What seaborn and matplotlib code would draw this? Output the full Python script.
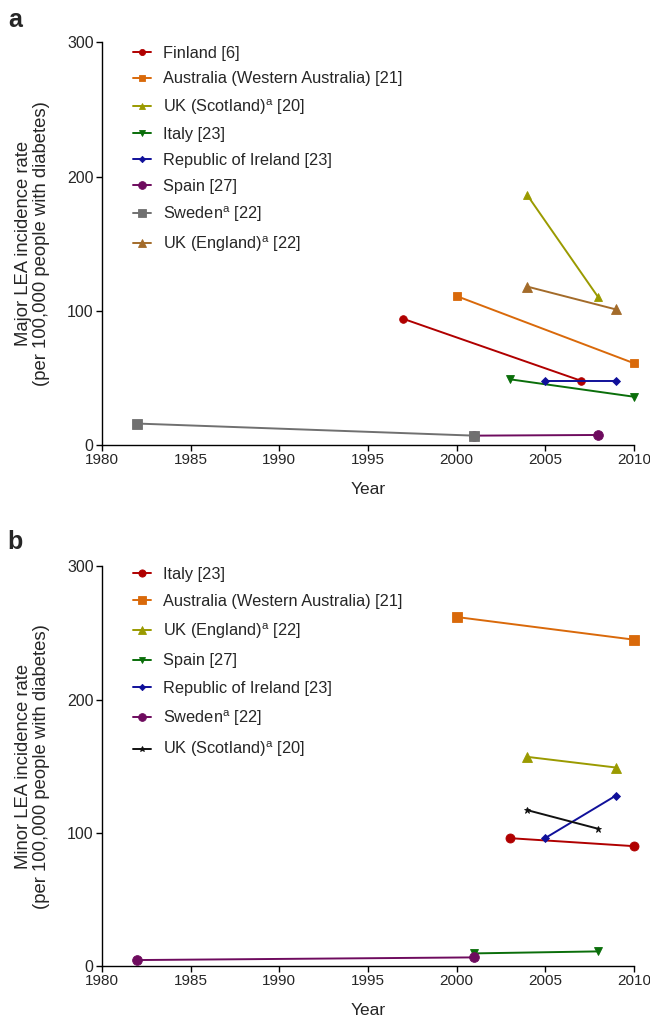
import numpy as np
import pandas as pd
import matplotlib
matplotlib.use("Agg")
import matplotlib.pyplot as plt
import seaborn as sns

# data
major_labels = ["Finland [6]", "Australia (Western Australia) [21]",
                "UK (Scotland)$^{\\mathrm{a}}$ [20]", "Italy [23]",
                "Republic of Ireland [23]", "Spain [27]",
                "Sweden$^{\\mathrm{a}}$ [22]", "UK (England)$^{\\mathrm{a}}$ [22]"]
major_years = [[1997, 2007], [2000, 2010], [2004, 2008], [2003, 2010],
               [2005, 2009], [2001, 2008], [1982, 2001], [2004, 2009]]
major_rates = [[94, 48], [111, 61], [186, 110], [49, 36],
               [48, 48], [7, 7.5], [16, 7], [118, 101]]

minor_labels = ["Italy [23]", "Australia (Western Australia) [21]",
                "UK (England)$^{\\mathrm{a}}$ [22]", "Spain [27]",
                "Republic of Ireland [23]", "Sweden$^{\\mathrm{a}}$ [22]",
                "UK (Scotland)$^{\\mathrm{a}}$ [20]"]
minor_years = [[2003, 2010], [2000, 2010], [2004, 2009], [2001, 2008],
               [2005, 2009], [1982, 2001], [2004, 2008]]
minor_rates = [[96, 90], [262, 245], [157, 149], [9.5, 11],
               [96, 128], [4.5, 6.5], [117, 103]]

year_ticks = [1980, 1985, 1990, 1995, 2000, 2005, 2010]
rate_ticks = [0, 100, 200, 300]

# styles
major_colors = ["#B00000", "#D9690A", "#9A9A00", "#0A6E0A",
                "#10109A", "#6E0B5E", "#707070", "#A36B2A"]
major_markers = ["o", "s", "^", "v", "D", "o", "s", "^"]
major_msize = [5.5, 6, 6, 6, 4, 7, 6.5, 7.5]

minor_colors = ["#B00000", "#D9690A", "#9A9A00", "#0A6E0A",
                "#10109A", "#6E0B5E", "#111111"]
minor_markers = ["o", "s", "^", "v", "D", "o", "*"]
minor_msize = [6.5, 6.5, 6.5, 6, 4, 7, 5]

sns.set_theme(style="ticks")
plt.rcParams["font.family"] = ["Liberation Sans", "DejaVu Sans"]
plt.rcParams["mathtext.fontset"] = "custom"
plt.rcParams["mathtext.rm"] = "Liberation Sans"

fig = plt.figure(figsize=(6.5, 10.17), dpi=100)
ax_a = fig.add_axes([0.157, 0.5624, 0.818, 0.396])
ax_b = fig.add_axes([0.157, 0.0501, 0.818, 0.393])


def draw_panel(ax, labels, years, rates, colors, markers, sizes, ylabel,
               spacing, leg_top):
    for lab, yr, rt, c, m, s in zip(labels, years, rates, colors, markers, sizes):
        df = pd.DataFrame({"year": yr, "rate": rt})
        sns.lineplot(data=df, x="year", y="rate", ax=ax, color=c, marker=m,
                     markersize=s, markeredgewidth=0.6, markeredgecolor=c,
                     linewidth=1.4, label=lab, clip_on=False, zorder=3)
    ax.set_xlim(1980, 2010)
    ax.set_ylim(0, 300)
    ax.set_xticks(year_ticks)
    ax.set_yticks(rate_ticks)
    ax.tick_params(axis="x", labelsize=11, length=4, width=1, color="black", pad=2)
    ax.tick_params(axis="y", labelsize=11.5, length=4, width=1, color="black", pad=2)
    for sp in ["top", "right"]:
        ax.spines[sp].set_visible(False)
    for sp in ["left", "bottom"]:
        ax.spines[sp].set_color("black")
        ax.spines[sp].set_linewidth(1)
    ax.set_xlabel("Year", fontsize=12.5, labelpad=10.5)
    ax.set_ylabel(ylabel, fontsize=13.3, labelpad=12, linespacing=1.1)
    ax.legend(loc="upper left", bbox_to_anchor=(0.046, leg_top), frameon=False,
              fontsize=11.8, handlelength=1.1, handletextpad=0.75,
              labelspacing=spacing, borderaxespad=0, markerscale=0.8)


draw_panel(ax_a, major_labels, major_years, major_rates, major_colors,
           major_markers, major_msize,
           "Major LEA incidence rate\n(per 100,000 people with diabetes)",
           0.65, 1.008)
draw_panel(ax_b, minor_labels, minor_years, minor_rates, minor_colors,
           minor_markers, minor_msize,
           "Minor LEA incidence rate\n(per 100,000 people with diabetes)",
           0.75, 1.015)

fig.text(0.012, 0.980, "a", fontsize=18, fontweight="bold", va="center")
fig.text(0.012, 0.467, "b", fontsize=18, fontweight="bold", va="center")

fig.savefig("out.png", dpi=100, facecolor="white")
